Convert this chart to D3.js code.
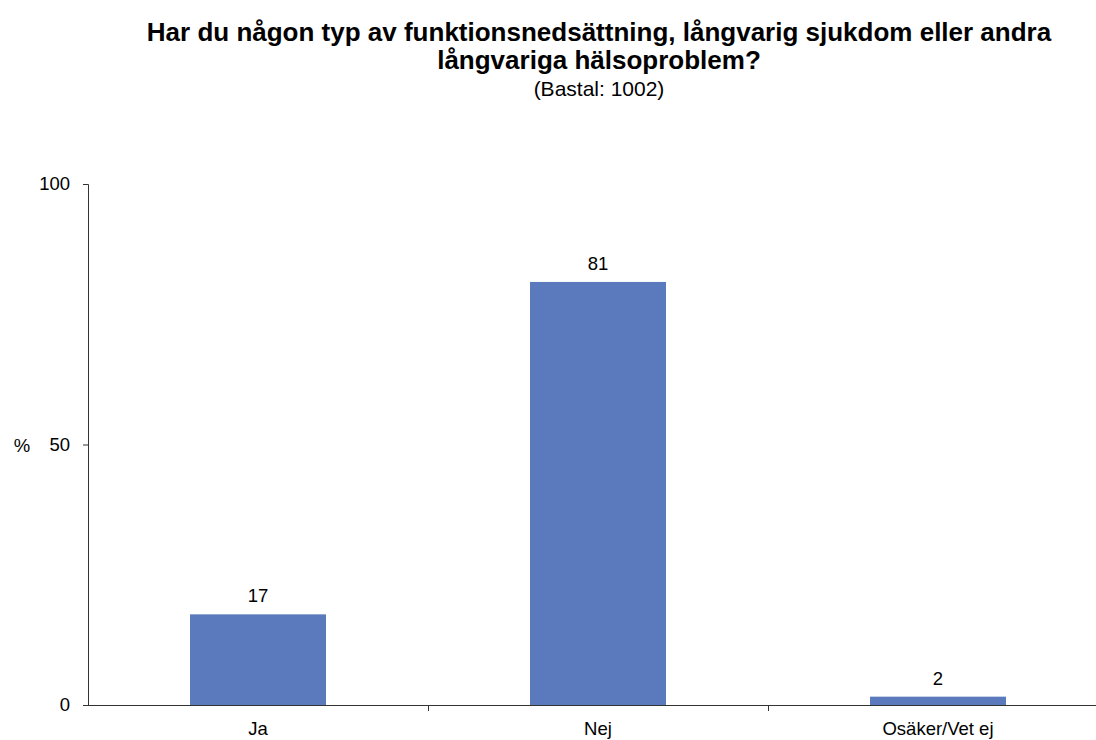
<!DOCTYPE html>
<html><head><meta charset="utf-8">
<script src="https://cdn.jsdelivr.net/npm/d3@7"></script>
<style>body{margin:0;background:#fff;} text{font-family:"Liberation Sans",Arial,sans-serif;}</style>
</head><body>
<svg id="c" width="1096" height="740"></svg>
<script>
const categories = ["Ja", "Nej", "Osäker/Vet ej"];
const values = [17.4, 81.2, 1.6];
const yTicks = [0, 50, 100];
const titleLines = ["Har du någon typ av funktionsnedsättning, långvarig sjukdom eller andra", "långvariga hälsoproblem?"];
const subtitle = "(Bastal: 1002)";
const yLabel = "%";

(function(){
const svg = d3.select("#c");
const mL = 88, mR = 1108, mT = 184, mB = 705;
const x = d3.scaleBand().domain(categories).range([mL, mR]).paddingInner(0.6).paddingOuter(0.3);
const xb = d3.scaleBand().domain(categories).range([mL, mR]).padding(0);
const y = d3.scaleLinear().domain([0, 100]).range([mB, mT]);

svg.selectAll("rect.bar").data(values).enter().append("rect")
  .attr("class","bar")
  .attr("x",(d,i)=>x(categories[i])).attr("width",x.bandwidth())
  .attr("y",d=>y(d)).attr("height",d=>y(0)-y(d))
  .attr("fill","#5B79BD");

svg.selectAll("text.val").data(values).enter().append("text")
  .attr("class","val")
  .attr("x",(d,i)=>x(categories[i])+x.bandwidth()/2)
  .attr("y",d=>y(d)-12)
  .attr("text-anchor","middle").attr("font-size",18.5).attr("fill","#000")
  .text(d=>Math.round(d));

// y axis
const ya = svg.append("g").attr("transform",`translate(${mL},0)`)
  .call(d3.axisLeft(y).tickValues(yTicks).tickSize(5).tickPadding(13));
ya.select(".domain").attr("stroke","#333").attr("d",`M-5,${mT+0.5}H0.5V${mB}`);
ya.selectAll(".tick line").attr("stroke","#333");
ya.selectAll(".tick text").attr("font-size",18.5).attr("fill","#000").attr("font-family","Liberation Sans, Arial, sans-serif");

// x axis
const xa = svg.append("g").attr("transform",`translate(0,${mB})`);
xa.append("line").attr("x1",mL-5).attr("x2",mR).attr("y1",0.5).attr("y2",0.5).attr("stroke","#333");
xa.selectAll("line.t").data(categories.slice(1)).enter().append("line")
  .attr("class","t")
  .attr("x1",d=>xb(d)+0.5).attr("x2",d=>xb(d)+0.5).attr("y1",0).attr("y2",6).attr("stroke","#333");
xa.selectAll("text.xl").data(categories).enter().append("text")
  .attr("class","xl")
  .attr("x",d=>xb(d)+xb.bandwidth()/2).attr("y",30)
  .attr("text-anchor","middle").attr("font-size",18.5).attr("fill","#000").text(d=>d);

svg.append("text").attr("x",22).attr("y",y(50)+7).attr("text-anchor","middle").attr("font-size",18.5).text(yLabel);

const cx = 599;
svg.selectAll("text.title").data(titleLines).enter().append("text")
  .attr("class","title")
  .attr("x",cx).attr("y",(d,i)=>41+i*28).attr("text-anchor","middle")
  .attr("font-size",26).attr("font-weight","bold").text(d=>d);
svg.append("text").attr("x",cx).attr("y",96).attr("text-anchor","middle").attr("font-size",21).text(subtitle);
})();
</script>
</body></html>
